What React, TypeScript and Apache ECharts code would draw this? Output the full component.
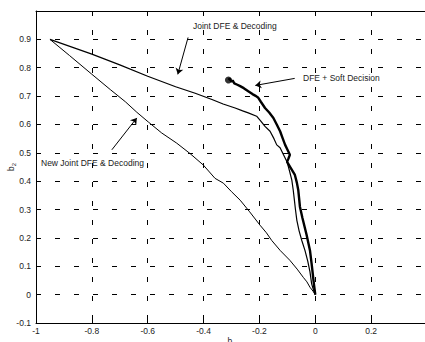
import React, { useEffect, useRef } from "react";
import * as echarts from "echarts";

// Joint DFE & Decoding
const jointX = [-0.95, -0.8, -0.7, -0.6, -0.5, -0.43, -0.37, -0.33, -0.287, -0.26, -0.24, -0.21, -0.195, -0.18, -0.162, -0.148, -0.138, -0.126, -0.112, -0.101, -0.092, -0.084, -0.079, -0.075, -0.071, -0.066, -0.058, -0.048, -0.037, -0.027, -0.019, -0.013, -0.006, 0];
const jointY = [0.9, 0.848, 0.81, 0.77, 0.733, 0.71, 0.688, 0.672, 0.658, 0.648, 0.641, 0.629, 0.612, 0.593, 0.576, 0.55, 0.528, 0.518, 0.49, 0.468, 0.435, 0.404, 0.369, 0.335, 0.3, 0.262, 0.225, 0.19, 0.156, 0.118, 0.08, 0.038, 0.015, 0];

// DFE + Soft Decision
const softX = [-0.311, -0.306, -0.300, -0.296, -0.290, -0.279, -0.269, -0.256, -0.240, -0.225, -0.212, -0.204, -0.195, -0.180, -0.165, -0.150, -0.138, -0.126, -0.117, -0.108, -0.100, -0.091, -0.096, -0.101, -0.087, -0.073, -0.066, -0.061, -0.058, -0.055, -0.046, -0.031, -0.019, -0.012, -0.005, 0];
const softY = [0.757, 0.762, 0.750, 0.756, 0.745, 0.740, 0.735, 0.728, 0.717, 0.707, 0.700, 0.694, 0.680, 0.658, 0.642, 0.623, 0.600, 0.576, 0.552, 0.528, 0.512, 0.493, 0.480, 0.468, 0.445, 0.422, 0.395, 0.369, 0.34, 0.31, 0.27, 0.21, 0.156, 0.1, 0.038, 0];

// New Joint DFE & Decoding
const newX = [-0.95, -0.88, -0.8, -0.734, -0.68, -0.639, -0.597, -0.55, -0.496, -0.448, -0.401, -0.359, -0.329, -0.3, -0.269, -0.235, -0.198, -0.175, -0.156, -0.125, -0.091, -0.065, -0.043, -0.03, -0.019, -0.008, 0];
const newY = [0.9, 0.843, 0.777, 0.723, 0.68, 0.643, 0.608, 0.57, 0.534, 0.497, 0.457, 0.41, 0.393, 0.363, 0.333, 0.292, 0.245, 0.218, 0.191, 0.155, 0.121, 0.09, 0.061, 0.045, 0.026, 0.012, 0];

// Annotation arrows (data coords): [x1, y1, x2, y2]
const arrowJoint = [-0.4555, 0.9067, -0.4923, 0.7766];
const arrowSoft = [-0.0737, 0.7624, -0.2147, 0.7376];
const arrowNew = [-0.7284, 0.5106, -0.639, 0.623];

const xTicks = { min: -1, max: 0.4, interval: 0.2 };
const yTicks = { min: -0.1, max: 1, interval: 0.1 };

const FONT = '"Liberation Sans", Arial, sans-serif';
const zip = (xs: number[], ys: number[]) => xs.map((x, i) => [x, ys[i]]);
const fmt = (v: number) => String(+v.toFixed(1));

export default function App() {
  const ref = useRef<HTMLDivElement>(null);
  useEffect(() => {
    if (!ref.current) return;
    const chart = echarts.init(ref.current, null, { renderer: "svg" });
    const grid = { color: "#000", width: 1, type: [5, 14] as any };
    const arrowLine = (a: number[]) => [
      { coord: [a[0], a[1]], symbol: "none" },
      { coord: [a[2], a[3]], symbol: "arrow", symbolSize: 6 },
    ];
    const nameRich = {
      a: { fontSize: 8.5, fontFamily: FONT, color: "#222" },
      s: { fontSize: 6, fontFamily: FONT, color: "#222", padding: [6, 0, 0, 0] },
    };
    chart.setOption({
      animation: false,
      backgroundColor: "#fff",
      grid: { left: 36, right: 13, top: 11, bottom: 19, outerBoundsMode: "none", containLabel: false },
      xAxis: [
        {
          type: "value",
          min: xTicks.min,
          max: xTicks.max,
          interval: xTicks.interval,
          name: "{a|b}{s|1}",
          nameLocation: "middle",
          nameGap: 12,
          nameMoveOverlap: false,
          nameTextStyle: { rich: nameRich },
          axisLine: { show: true, onZero: false, lineStyle: { color: "#000", width: 1 } },
          axisTick: { show: true, inside: true, length: 4, lineStyle: { color: "#000" } },
          axisLabel: {
            formatter: (v: number) => (Math.abs(v - 0.4) < 1e-9 ? "" : fmt(v)),
            fontSize: 8.5,
            fontFamily: FONT,
            color: "#222",
            margin: 3,
          },
          splitLine: { show: true, lineStyle: grid },
        },
        {
          type: "value",
          position: "top",
          min: xTicks.min,
          max: xTicks.max,
          interval: xTicks.interval,
          axisLine: { show: true, onZero: false, lineStyle: { color: "#000", width: 1 } },
          axisTick: { show: true, inside: true, length: 4, lineStyle: { color: "#000" } },
          axisLabel: { show: false },
          splitLine: { show: false },
        },
      ],
      yAxis: {
        type: "value",
        min: yTicks.min,
        max: yTicks.max,
        interval: yTicks.interval,
        name: "{a|b}{s|2}",
        nameLocation: "middle",
        nameGap: 19,
        nameRotate: 90,
        nameMoveOverlap: false,
        nameTextStyle: { rich: nameRich },
        axisLine: { show: true, onZero: false, lineStyle: { color: "#000", width: 1 } },
        axisTick: { show: true, inside: true, length: 4, lineStyle: { color: "#000" } },
        axisLabel: {
          formatter: (v: number) => (Math.abs(v - 1) < 1e-9 ? "" : fmt(v)),
          fontSize: 8.5,
          fontFamily: FONT,
          color: "#222",
          margin: 5,
        },
        splitLine: { show: true, lineStyle: grid },
      },
      series: [
        {
          name: "New Joint DFE & Decoding",
          type: "line",
          data: zip(newX, newY),
          showSymbol: false,
          symbol: "none",
          lineStyle: { color: "#000", width: 1 },
          markLine: {
            silent: true,
            symbol: ["none", "arrow"],
            symbolSize: 6,
            label: { show: false },
            lineStyle: { color: "#000", width: 1, type: "solid" },
            data: [arrowLine(arrowJoint), arrowLine(arrowSoft), arrowLine(arrowNew)],
          },
        },
        {
          name: "Joint DFE & Decoding",
          type: "line",
          data: zip(jointX, jointY),
          showSymbol: false,
          symbol: "none",
          lineStyle: { color: "#000", width: 1.2 },
        },
        {
          name: "DFE + Soft Decision",
          type: "line",
          data: zip(softX, softY),
          showSymbol: false,
          symbol: "none",
          lineStyle: { color: "#000", width: 2.4 },
        },
        {
          type: "scatter",
          data: [[softX[0], softY[0]]],
          symbol: "circle",
          symbolSize: 7,
          itemStyle: { color: "#000" },
        },
      ],
      graphic: [
        { type: "text", left: 193, top: 21.5, style: { text: "Joint DFE & Decoding", fontSize: 8.5, fontFamily: FONT, fill: "#222" } },
        { type: "text", left: 303, top: 73.5, style: { text: "DFE + Soft Decision", fontSize: 8.5, fontFamily: FONT, fill: "#222" } },
        { type: "text", left: 41, top: 158.5, style: { text: "New Joint DFE & Decoding", fontSize: 8.5, fontFamily: FONT, fill: "#222" } },
      ],
    });
    return () => chart.dispose();
  }, []);
  return (
    <div style={{ position: "fixed", left: 0, top: 0, width: 425, height: 342, overflow: "hidden", background: "#fff" }}>
      <div ref={ref} style={{ width: 440, height: 342 }} />
    </div>
  );
}
